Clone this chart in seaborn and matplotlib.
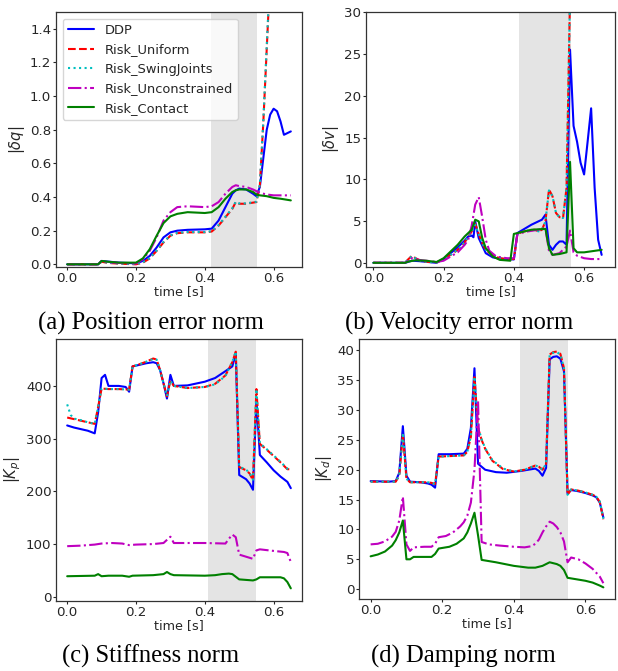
import numpy as np
import pandas as pd
import matplotlib
matplotlib.use("Agg")
import matplotlib.pyplot as plt
import seaborn as sns

# ---------------- data ----------------
series_names = ["DDP", "Risk_Uniform", "Risk_SwingJoints", "Risk_Unconstrained", "Risk_Contact"]

# (a) position error norm |dq|
a_ddp_t = [0, 0.09, 0.10, 0.12, 0.15, 0.20, 0.22, 0.24, 0.26, 0.28, 0.30, 0.32, 0.35, 0.40, 0.42, 0.44, 0.46, 0.48, 0.49, 0.50, 0.52, 0.54, 0.55, 0.56, 0.57, 0.58, 0.59, 0.60, 0.61, 0.62, 0.63, 0.64, 0.65]
a_ddp_v = [0, 0, 0.02, 0.016, 0.01, 0.006, 0.02, 0.05, 0.10, 0.16, 0.19, 0.20, 0.205, 0.208, 0.212, 0.26, 0.34, 0.42, 0.44, 0.45, 0.445, 0.42, 0.405, 0.46, 0.63, 0.80, 0.89, 0.925, 0.91, 0.85, 0.77, 0.78, 0.79]
a_uni_t = [0, 0.09, 0.10, 0.12, 0.15, 0.20, 0.22, 0.24, 0.26, 0.28, 0.30, 0.32, 0.35, 0.40, 0.42, 0.44, 0.46, 0.48, 0.49, 0.50, 0.52, 0.55, 0.56, 0.57, 0.58, 0.59, 0.60, 0.62, 0.65]
a_uni_v = [0, 0, 0.015, 0.008, 0.004, 0.0, 0.01, 0.035, 0.08, 0.13, 0.17, 0.185, 0.19, 0.19, 0.195, 0.23, 0.28, 0.33, 0.37, 0.36, 0.36, 0.37, 0.47, 0.84, 1.28, 1.72, 2.2, 3.1, 4.5]
a_swi_t = [0, 0.09, 0.10, 0.12, 0.15, 0.20, 0.22, 0.24, 0.26, 0.28, 0.30, 0.32, 0.35, 0.40, 0.42, 0.44, 0.46, 0.48, 0.49, 0.50, 0.52, 0.55, 0.56, 0.57, 0.58, 0.59, 0.60, 0.62, 0.65]
a_swi_v = [0, 0, 0.016, 0.009, 0.005, 0.001, 0.012, 0.037, 0.082, 0.133, 0.172, 0.187, 0.192, 0.192, 0.197, 0.233, 0.283, 0.333, 0.372, 0.362, 0.362, 0.372, 0.475, 0.85, 1.3, 1.75, 2.25, 3.2, 4.6]
a_unc_t = [0, 0.09, 0.10, 0.12, 0.15, 0.20, 0.22, 0.24, 0.26, 0.28, 0.30, 0.32, 0.35, 0.40, 0.42, 0.44, 0.46, 0.48, 0.49, 0.50, 0.52, 0.54, 0.55, 0.56, 0.58, 0.60, 0.65]
a_unc_v = [0, 0, 0.02, 0.012, 0.008, 0.005, 0.03, 0.08, 0.16, 0.26, 0.31, 0.34, 0.345, 0.34, 0.345, 0.37, 0.42, 0.46, 0.47, 0.465, 0.46, 0.445, 0.435, 0.425, 0.415, 0.41, 0.41]
a_con_t = [0, 0.09, 0.10, 0.12, 0.15, 0.20, 0.22, 0.24, 0.26, 0.28, 0.30, 0.32, 0.35, 0.40, 0.42, 0.44, 0.46, 0.48, 0.49, 0.50, 0.52, 0.54, 0.55, 0.56, 0.58, 0.60, 0.62, 0.65]
a_con_v = [0, 0, 0.02, 0.015, 0.01, 0.01, 0.035, 0.09, 0.17, 0.245, 0.285, 0.30, 0.31, 0.305, 0.31, 0.34, 0.39, 0.43, 0.44, 0.445, 0.445, 0.43, 0.415, 0.41, 0.405, 0.395, 0.39, 0.38]

# (b) velocity error norm |dv|
b_ddp_t = [0, 0.09, 0.11, 0.13, 0.18, 0.20, 0.22, 0.24, 0.26, 0.27, 0.28, 0.285, 0.29, 0.30, 0.32, 0.34, 0.36, 0.40, 0.41, 0.45, 0.48, 0.49, 0.50, 0.51, 0.52, 0.53, 0.54, 0.55, 0.56, 0.57, 0.58, 0.59, 0.60, 0.61, 0.62, 0.63, 0.64, 0.65]
b_ddp_v = [0.05, 0.05, 0.3, 0.25, 0.05, 0.5, 1.2, 1.9, 2.7, 3.2, 3.3, 3.1, 5.0, 3.0, 1.2, 0.7, 0.55, 0.45, 3.6, 4.6, 5.2, 5.8, 2.2, 1.6, 2.2, 2.6, 2.6, 2.2, 25.5, 16.4, 14.5, 12.0, 10.6, 14.5, 18.5, 9.0, 2.8, 1.0]
b_uni_t = [0, 0.09, 0.10, 0.11, 0.12, 0.14, 0.18, 0.20, 0.22, 0.24, 0.26, 0.28, 0.29, 0.30, 0.31, 0.32, 0.34, 0.36, 0.38, 0.40, 0.41, 0.42, 0.44, 0.46, 0.47, 0.48, 0.49, 0.50, 0.51, 0.52, 0.53, 0.54, 0.55, 0.56, 0.57, 0.60, 0.65]
b_uni_v = [0.05, 0.05, 0.5, 0.9, 0.6, 0.2, 0.1, 0.5, 1.0, 1.6, 2.5, 3.8, 4.7, 3.5, 2.4, 1.6, 0.9, 0.6, 0.5, 0.5, 3.4, 3.7, 3.9, 4.0, 3.8, 4.0, 5.0, 8.8, 8.0, 6.0, 5.5, 5.4, 9.0, 32.0, 40.0, 60.0, 90.0]
b_swi_t = [0, 0.09, 0.10, 0.11, 0.12, 0.14, 0.18, 0.20, 0.22, 0.24, 0.26, 0.28, 0.29, 0.30, 0.31, 0.32, 0.34, 0.36, 0.38, 0.40, 0.41, 0.42, 0.44, 0.46, 0.47, 0.48, 0.49, 0.50, 0.51, 0.52, 0.53, 0.54, 0.55, 0.56, 0.57, 0.60, 0.65]
b_swi_v = [0.05, 0.05, 0.5, 0.85, 0.6, 0.2, 0.1, 0.5, 1.0, 1.6, 2.5, 3.8, 4.6, 3.5, 2.4, 1.6, 0.9, 0.65, 0.55, 0.5, 3.4, 3.7, 3.9, 4.0, 3.8, 4.0, 5.0, 8.7, 8.0, 6.0, 5.5, 5.4, 9.0, 32.0, 40.0, 60.0, 90.0]
b_unc_t = [0, 0.09, 0.11, 0.13, 0.18, 0.20, 0.22, 0.24, 0.26, 0.27, 0.28, 0.29, 0.30, 0.31, 0.32, 0.33, 0.35, 0.38, 0.40, 0.41, 0.44, 0.47, 0.49, 0.50, 0.51, 0.53, 0.55, 0.56, 0.57, 0.58, 0.60, 0.62, 0.65]
b_unc_v = [0.05, 0.05, 0.6, 0.4, 0.15, 0.3, 0.8, 1.3, 2.2, 2.8, 4.5, 7.0, 7.9, 5.5, 2.8, 1.5, 0.8, 0.6, 0.6, 3.5, 3.8, 4.0, 4.1, 1.5, 1.0, 1.2, 2.0, 3.9, 1.3, 0.9, 0.6, 0.5, 0.5]
b_con_t = [0, 0.09, 0.10, 0.12, 0.15, 0.18, 0.20, 0.22, 0.24, 0.26, 0.28, 0.29, 0.30, 0.31, 0.32, 0.34, 0.36, 0.39, 0.40, 0.42, 0.45, 0.49, 0.50, 0.51, 0.53, 0.55, 0.56, 0.57, 0.58, 0.60, 0.65]
b_con_v = [0.05, 0.05, 0.2, 0.35, 0.3, 0.15, 0.6, 1.4, 2.2, 3.2, 4.0, 5.2, 5.0, 3.0, 1.8, 0.8, 0.4, 0.3, 3.5, 3.7, 4.0, 4.1, 1.8, 1.0, 1.1, 1.3, 12.1, 1.8, 1.3, 1.3, 1.6]

# (c) stiffness norm |Kp|
c_ddp_t = [0, 0.02, 0.04, 0.06, 0.08, 0.09, 0.10, 0.11, 0.12, 0.15, 0.17, 0.18, 0.19, 0.21, 0.23, 0.25, 0.26, 0.27, 0.28, 0.29, 0.30, 0.31, 0.35, 0.40, 0.43, 0.46, 0.48, 0.49, 0.50, 0.52, 0.53, 0.54, 0.55, 0.56, 0.58, 0.60, 0.62, 0.64, 0.65]
c_ddp_v = [325, 321, 318, 315, 310, 350, 415, 421, 400, 400, 398, 389, 437, 440, 443, 445, 443, 430, 405, 376, 421, 400, 401, 408, 415, 428, 437, 462, 231, 223, 215, 203, 373, 269, 255, 240, 228, 218, 206]
c_uni_t = [0, 0.02, 0.04, 0.06, 0.08, 0.09, 0.10, 0.12, 0.15, 0.18, 0.19, 0.21, 0.23, 0.25, 0.26, 0.27, 0.28, 0.29, 0.30, 0.31, 0.35, 0.40, 0.43, 0.46, 0.48, 0.49, 0.50, 0.52, 0.53, 0.54, 0.55, 0.56, 0.58, 0.60, 0.62, 0.64, 0.65]
c_uni_v = [340, 337, 334, 331, 328, 360, 395, 394, 394, 393, 437, 441, 446, 452, 450, 430, 405, 380, 410, 400, 396, 398, 404, 420, 445, 465, 246, 240, 234, 221, 394, 290, 279, 267, 255, 242, 242]
c_swi_t = [0, 0.01, 0.02, 0.04, 0.06, 0.08, 0.09, 0.10, 0.12, 0.15, 0.18, 0.19, 0.21, 0.23, 0.25, 0.26, 0.27, 0.28, 0.29, 0.30, 0.31, 0.35, 0.40, 0.43, 0.46, 0.48, 0.49, 0.50, 0.52, 0.53, 0.54, 0.55, 0.56, 0.58, 0.60, 0.62, 0.64, 0.65]
c_swi_v = [365, 345, 338, 335, 331, 328, 360, 395, 394, 394, 393, 437, 441, 446, 451, 450, 430, 405, 381, 410, 400, 396, 398, 403, 419, 446, 465, 247, 241, 235, 222, 394, 291, 280, 268, 256, 243, 242]
c_unc_t = [0, 0.04, 0.08, 0.10, 0.13, 0.16, 0.18, 0.20, 0.25, 0.28, 0.29, 0.30, 0.31, 0.35, 0.40, 0.46, 0.47, 0.48, 0.49, 0.50, 0.52, 0.54, 0.55, 0.56, 0.60, 0.63, 0.64, 0.65]
c_unc_v = [96, 97, 99, 101, 102, 101, 98, 99, 100, 102, 108, 114, 102, 102, 102, 101, 110, 118, 113, 80, 76, 72, 88, 90, 87, 85, 83, 66]
c_con_t = [0, 0.08, 0.09, 0.10, 0.12, 0.16, 0.18, 0.19, 0.25, 0.28, 0.29, 0.30, 0.31, 0.40, 0.43, 0.45, 0.47, 0.48, 0.50, 0.52, 0.54, 0.55, 0.56, 0.60, 0.62, 0.63, 0.64, 0.65]
c_con_v = [39, 40, 43, 39, 40, 40, 38, 40, 41, 43, 47, 43, 41, 40, 41, 43, 44, 43, 33, 32, 31, 33, 37, 37, 37, 35, 28, 16]

# (d) damping norm |Kd|
d_ddp_t = [0, 0.05, 0.07, 0.08, 0.09, 0.10, 0.11, 0.14, 0.16, 0.17, 0.18, 0.19, 0.22, 0.26, 0.27, 0.28, 0.29, 0.30, 0.32, 0.35, 0.38, 0.42, 0.44, 0.46, 0.47, 0.48, 0.49, 0.50, 0.51, 0.52, 0.53, 0.54, 0.55, 0.56, 0.58, 0.60, 0.62, 0.63, 0.64, 0.65]
d_ddp_v = [18.1, 18.0, 18.1, 19.5, 27.3, 19.0, 18.0, 17.9, 17.7, 17.5, 17.0, 22.6, 22.6, 22.7, 23.5, 27.0, 37.0, 21.0, 20.0, 19.6, 19.5, 19.8, 20.0, 20.2, 19.8, 19.0, 20.3, 38.5, 38.9, 39.0, 38.6, 36.5, 16.0, 16.6, 16.4, 16.1, 15.7, 15.4, 14.5, 12.0]
d_uni_t = [0, 0.07, 0.08, 0.09, 0.10, 0.11, 0.16, 0.17, 0.18, 0.19, 0.26, 0.27, 0.28, 0.29, 0.30, 0.31, 0.32, 0.34, 0.37, 0.40, 0.43, 0.46, 0.47, 0.48, 0.49, 0.50, 0.51, 0.52, 0.53, 0.54, 0.55, 0.56, 0.58, 0.60, 0.62, 0.63, 0.64, 0.65]
d_uni_v = [18.0, 18.0, 19.0, 26.0, 18.5, 17.9, 17.9, 17.8, 17.6, 22.2, 22.4, 23.0, 25.5, 35.5, 27.0, 25.0, 23.5, 21.5, 20.1, 19.7, 20.0, 20.7, 20.5, 20.0, 21.0, 39.3, 39.7, 39.8, 39.4, 37.0, 15.8, 16.7, 16.5, 16.2, 15.8, 15.5, 14.6, 11.7]
d_swi_t = [0, 0.07, 0.08, 0.09, 0.10, 0.11, 0.16, 0.17, 0.18, 0.19, 0.26, 0.27, 0.28, 0.29, 0.30, 0.31, 0.32, 0.34, 0.37, 0.40, 0.43, 0.46, 0.47, 0.48, 0.49, 0.50, 0.51, 0.52, 0.53, 0.54, 0.55, 0.56, 0.58, 0.60, 0.62, 0.63, 0.64, 0.65]
d_swi_v = [18.0, 18.0, 19.1, 26.2, 18.5, 17.9, 17.9, 17.8, 17.6, 22.2, 22.4, 23.0, 25.6, 35.6, 27.2, 25.1, 23.6, 21.6, 20.2, 19.7, 20.0, 20.7, 20.5, 20.0, 21.0, 39.2, 39.6, 39.7, 39.3, 37.0, 15.8, 16.7, 16.5, 16.2, 15.8, 15.5, 14.7, 11.8]
d_unc_t = [0, 0.02, 0.04, 0.06, 0.07, 0.08, 0.09, 0.10, 0.11, 0.12, 0.15, 0.17, 0.18, 0.19, 0.21, 0.23, 0.25, 0.26, 0.27, 0.28, 0.29, 0.30, 0.31, 0.33, 0.36, 0.40, 0.43, 0.45, 0.46, 0.47, 0.48, 0.49, 0.50, 0.51, 0.52, 0.53, 0.54, 0.55, 0.56, 0.58, 0.60, 0.62, 0.64, 0.65]
d_unc_v = [7.5, 7.6, 8.0, 8.8, 9.6, 11.5, 15.5, 7.5, 6.4, 7.0, 7.1, 7.1, 7.6, 8.7, 8.9, 9.5, 10.5, 11.2, 12.3, 14.5, 20.0, 31.5, 7.9, 7.5, 7.3, 7.1, 7.0, 7.2, 7.6, 8.3, 9.5, 10.5, 11.3, 11.0, 10.4, 9.5, 8.0, 4.5, 5.3, 5.0, 4.3, 3.4, 2.1, 1.0]
d_con_t = [0, 0.02, 0.04, 0.06, 0.07, 0.08, 0.09, 0.10, 0.11, 0.12, 0.15, 0.17, 0.18, 0.19, 0.22, 0.24, 0.26, 0.27, 0.28, 0.29, 0.30, 0.31, 0.35, 0.40, 0.44, 0.46, 0.48, 0.50, 0.52, 0.53, 0.54, 0.55, 0.58, 0.60, 0.62, 0.64, 0.65]
d_con_v = [5.5, 5.8, 6.3, 7.3, 8.2, 9.5, 11.5, 5.0, 5.0, 5.4, 5.4, 5.4, 5.9, 6.8, 7.1, 7.6, 8.5, 9.5, 11.0, 12.8, 9.0, 4.9, 4.5, 3.9, 3.6, 3.6, 3.9, 4.5, 4.2, 3.9, 3.2, 1.9, 1.6, 1.4, 1.1, 0.6, 0.3]

# shaded phase per panel (start, end) in seconds
phase_a = (0.419, 0.552)
phase_b = (0.415, 0.563)
phase_c = (0.408, 0.550)
phase_d = (0.416, 0.552)

ylabels = [r"$|\delta q|$", r"$|\delta v|$", r"$|K_p|$", r"$|K_d|$"]
captions = ["(a) Position error norm", "(b) Velocity error norm", "(c) Stiffness norm", "(d) Damping norm"]
xlabel = "time [s]"
yticks_a = [0.0, 0.2, 0.4, 0.6, 0.8, 1.0, 1.2, 1.4]
yticks_b = [0, 5, 10, 15, 20, 25, 30]
yticks_c = [0, 100, 200, 300, 400]
yticks_d = [0, 5, 10, 15, 20, 25, 30, 35, 40]
xticks = [0.0, 0.2, 0.4, 0.6]

# ---------------- styling ----------------
sns.set_style("ticks")
plt.rcParams["font.family"] = ["DejaVu Sans"]
plt.rcParams["mathtext.fontset"] = "dejavusans"

colors = ["#0000ff", "#ff0000", "#00bfbf", "#bf00bf", "#008000"]
styles = ["-", "--", ":", "-.", "-"]

fig = plt.figure(figsize=(6.18, 6.71), dpi=100)
W, H = 618.0, 671.0

def box(l, t, r, b):
    return [l / W, 1 - b / H, (r - l) / W, (b - t) / H]

axes = [
    fig.add_axes(box(56, 12, 302, 267)),
    fig.add_axes(box(366, 12, 615, 267)),
    fig.add_axes(box(56, 339, 302, 601)),
    fig.add_axes(box(359, 339, 615, 599)),
]

panels = [
    ([(a_ddp_t, a_ddp_v), (a_uni_t, a_uni_v), (a_swi_t, a_swi_v), (a_unc_t, a_unc_v), (a_con_t, a_con_v)], phase_a, yticks_a, (-0.016, 1.5), (-0.0325, 0.6825)),
    ([(b_ddp_t, b_ddp_v), (b_uni_t, b_uni_v), (b_swi_t, b_swi_v), (b_unc_t, b_unc_v), (b_con_t, b_con_v)], phase_b, yticks_b, (-0.45, 30), (-0.021, 0.688)),
    ([(c_ddp_t, c_ddp_v), (c_uni_t, c_uni_v), (c_swi_t, c_swi_v), (c_unc_t, c_unc_v), (c_con_t, c_con_v)], phase_c, yticks_c, (-8, 489), (-0.0325, 0.6825)),
    ([(d_ddp_t, d_ddp_v), (d_uni_t, d_uni_v), (d_swi_t, d_swi_v), (d_unc_t, d_unc_v), (d_con_t, d_con_v)], phase_d, yticks_d, (-1.65, 41.9), (-0.0325, 0.6825)),
]

for i, (ax, (data, phase, yt, ylim, xlim)) in enumerate(zip(axes, panels)):
    ax.axvspan(phase[0], phase[1], color="0.895", lw=0, zorder=0)
    for k, (t, v) in enumerate(data):
        df = pd.DataFrame({"time": t, "val": v})
        sns.lineplot(data=df, x="time", y="val", ax=ax, color=colors[k], linestyle=styles[k],
                     linewidth=1.5, sort=False, estimator=None,
                     label=series_names[k] if i == 0 else None, legend=False)
    ax.set_xlim(*xlim)
    ax.set_ylim(*ylim)
    ax.set_xticks(xticks)
    ax.set_yticks(yt)
    ax.tick_params(labelsize=9.6, length=2.2, width=0.8, pad=1.2, colors="0.15")
    ax.set_xlabel(xlabel, fontsize=9.2, labelpad=0)
    ax.set_ylabel(ylabels[i], fontsize=10.5, labelpad=2)
    for s in ax.spines.values():
        s.set_linewidth(0.9)
        s.set_color("0.2")

axes[0].yaxis.set_major_formatter(matplotlib.ticker.FormatStrFormatter("%.1f"))
axes[0].legend(loc="upper left", fontsize=9.4, frameon=True, borderaxespad=0.5)

cap_pos = [(151, 329.5), (459.5, 329.5), (151, 663), (463.5, 663)]
for (cx, cy), txt in zip(cap_pos, captions):
    fig.text(cx / W, 1 - cy / H, txt, ha="center", va="baseline",
             fontsize=17.7, family=["Liberation Serif", "DejaVu Serif"], color="black")

fig.savefig("out.png", dpi=100)
